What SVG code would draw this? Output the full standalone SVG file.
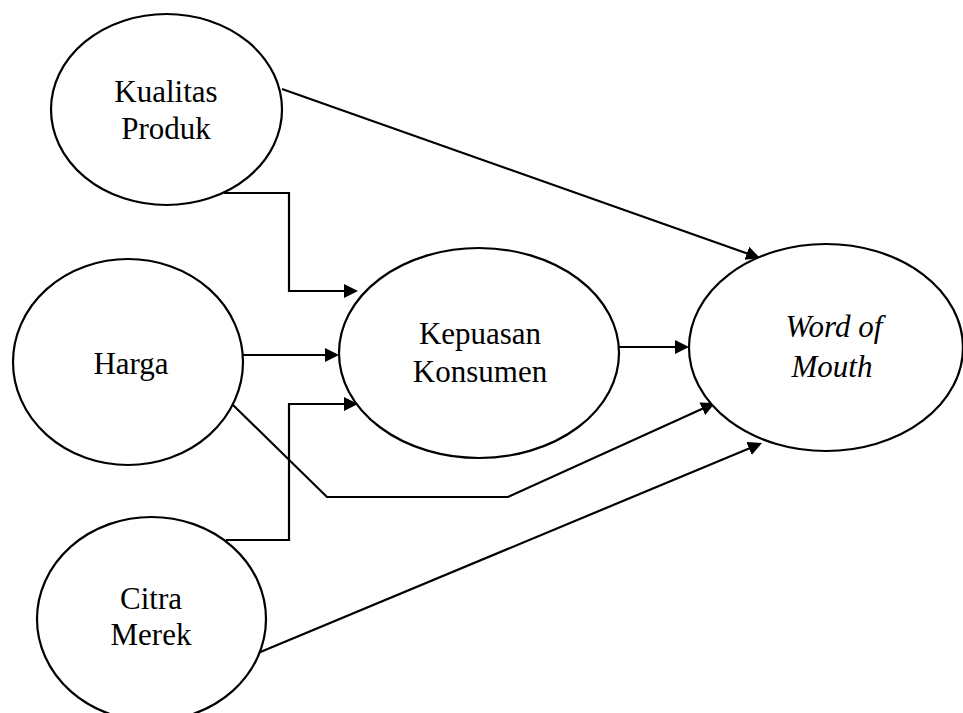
<svg xmlns="http://www.w3.org/2000/svg" width="963" height="713" viewBox="0 0 963 713">
<defs>
<style>
.node ellipse{fill:#fff;stroke:#000;stroke-width:2.2}
.node text{font-family:"Liberation Serif","Times New Roman",serif;font-size:31px;fill:#000;text-anchor:middle}
.it{font-style:italic}
#connectors path{fill:none;stroke:#000;stroke-width:2.2;marker-end:url(#arr)}
</style>
<marker id="arr" markerUnits="userSpaceOnUse" markerWidth="14" markerHeight="14" refX="11" refY="7" orient="auto">
<path d="M0,0 L14,7 L0,14 z" fill="#000"/>
</marker>
</defs>
<rect width="963" height="713" fill="#fff"/>
<g id="connectors">
<path d="M282,89 L757.2,257"/>
<path d="M224,193 H289 V291 H355"/>
<path d="M243,355 H336"/>
<path d="M226,540 H289 V404 H355"/>
<path d="M233,405 L327,497 H508 L712.3,404.2"/>
<path d="M258,653 L759.2,444.2"/>
<path d="M618,347 H686"/>
</g>
<g id="kualitas" class="node">
<ellipse cx="166.5" cy="109.5" rx="115.5" ry="95.5"/>
<text x="166" y="102">Kualitas</text>
<text x="166" y="139">Produk</text>
</g>
<g id="harga" class="node">
<ellipse cx="128" cy="362" rx="115" ry="103"/>
<text x="131" y="374">Harga</text>
</g>
<g id="kepuasan" class="node">
<ellipse cx="479" cy="353" rx="140" ry="105"/>
<text x="480" y="344">Kepuasan</text>
<text x="480" y="382">Konsumen</text>
</g>
<g id="wom" class="node">
<ellipse cx="826" cy="347.5" rx="137" ry="103.5"/>
<text class="it" x="834" y="337">Word of</text>
<text class="it" x="832" y="377">Mouth</text>
</g>
<g id="citra" class="node">
<ellipse cx="151.5" cy="619" rx="114.5" ry="102"/>
<text x="151" y="609">Citra</text>
<text x="151" y="645">Merek</text>
</g>
</svg>
